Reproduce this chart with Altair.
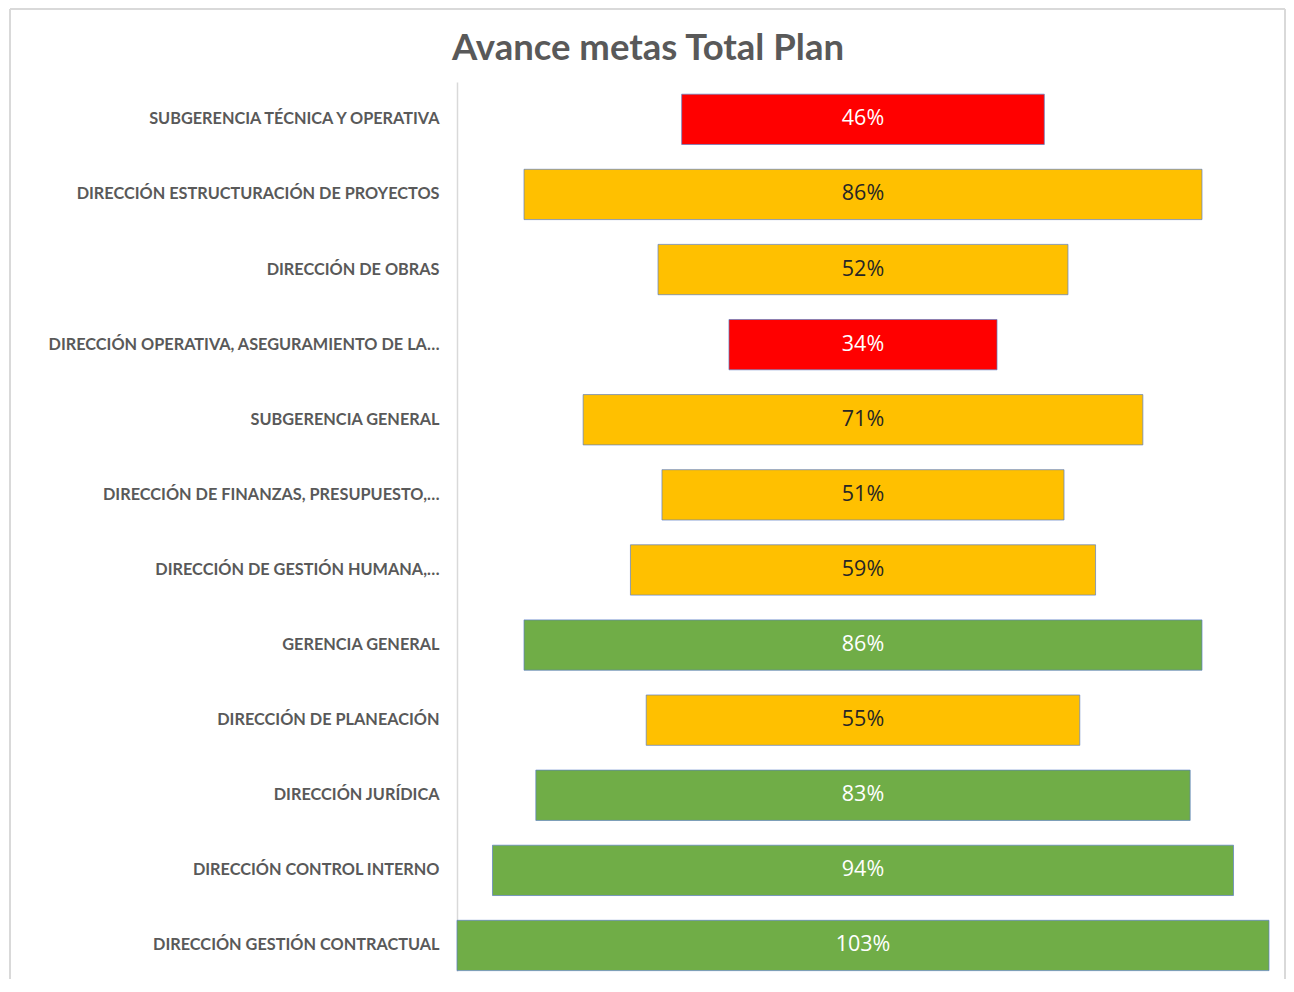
import altair as alt
import pandas as pd

title_text = "Avance metas Total Plan"
labels = [
    "SUBGERENCIA TÉCNICA Y OPERATIVA",
    "DIRECCIÓN ESTRUCTURACIÓN DE PROYECTOS",
    "DIRECCIÓN DE OBRAS",
    "DIRECCIÓN OPERATIVA, ASEGURAMIENTO DE LA…",
    "SUBGERENCIA GENERAL",
    "DIRECCIÓN DE FINANZAS, PRESUPUESTO,…",
    "DIRECCIÓN DE GESTIÓN HUMANA,…",
    "GERENCIA GENERAL",
    "DIRECCIÓN DE PLANEACIÓN",
    "DIRECCIÓN JURÍDICA",
    "DIRECCIÓN CONTROL INTERNO",
    "DIRECCIÓN GESTIÓN CONTRACTUAL",
]
values = [46, 86, 52, 34, 71, 51, 59, 86, 55, 83, 94, 103]
status = ["rojo", "amarillo", "amarillo", "rojo", "amarillo", "amarillo",
          "amarillo", "verde", "amarillo", "verde", "verde", "verde"]

status_domain = ["rojo", "amarillo", "verde"]
status_colors = ["#FF0000", "#FFC000", "#70AD47"]
text_colors = {"rojo": "#FFFFFF", "amarillo": "#262626", "verde": "#FFFFFF"}

df = pd.DataFrame({
    "label": labels,
    "value": values,
    "status": status,
    "tcolor": [text_colors[s] for s in status],
    "txt": [f"{v}%" for v in values],
})

FONT = "Lato"

base = alt.Chart(df).transform_calculate(
    lo="-datum.value/2", hi="datum.value/2", mid="0"
)

y_enc = alt.Y(
    "label:N", sort=labels, title=None,
    scale=alt.Scale(paddingInner=0.33, paddingOuter=0.0836, align=0.97),
    axis=alt.Axis(
        ticks=False, labelPadding=18, labelFont=FONT, labelFontWeight="bold",
        labelFontSize=16.3, labelColor="#595959", labelLimit=440,
        domainColor="#d9d9d9", domainWidth=1.5, grid=False,
    ),
)
x_scale = alt.Scale(domain=[-51.5, 51.5], nice=False, zero=False)

bars = base.mark_bar(stroke="#5b7fc4", strokeWidth=1, strokeOpacity=0.7).encode(
    y=y_enc,
    x=alt.X("lo:Q", scale=x_scale, axis=None),
    x2="hi:Q",
    color=alt.Color("status:N", scale=alt.Scale(domain=status_domain, range=status_colors), legend=None),
)

texts = base.mark_text(font="Open Sans", fontSize=21.5, baseline="middle", align="center").encode(
    y=alt.Y("label:N", sort=labels),
    x=alt.X("mid:Q", scale=x_scale),
    text="txt:N",
    color=alt.Color("tcolor:N", scale=None),
)

one = pd.DataFrame({"t": [title_text]})
frame_style = dict(color="#d9d9d9", strokeWidth=2)
left_edge = alt.Chart(one).mark_rule(**frame_style).encode(
    x=alt.value(-447), y=alt.value(-73), y2=alt.value(897))
right_edge = alt.Chart(one).mark_rule(**frame_style).encode(
    x=alt.value(828), y=alt.value(-73), y2=alt.value(897))
top_edge = alt.Chart(one).mark_rule(**frame_style).encode(
    x=alt.value(-447), x2=alt.value(828), y=alt.value(-73))

title = alt.Chart(one).mark_text(
    font=FONT, fontSize=36.5, fontWeight="bold", color="#595959",
    align="center", baseline="middle",
).encode(x=alt.value(191), y=alt.value(-33), text="t:N")

chart = alt.layer(left_edge, right_edge, top_edge, title, bars, texts).properties(
    width=812, height=889,
    padding={"left": 1, "top": 0, "right": 0, "bottom": 0},
).configure_view(stroke=None)

chart.save("out.html", embed_options={"renderer": "svg", "actions": False})
